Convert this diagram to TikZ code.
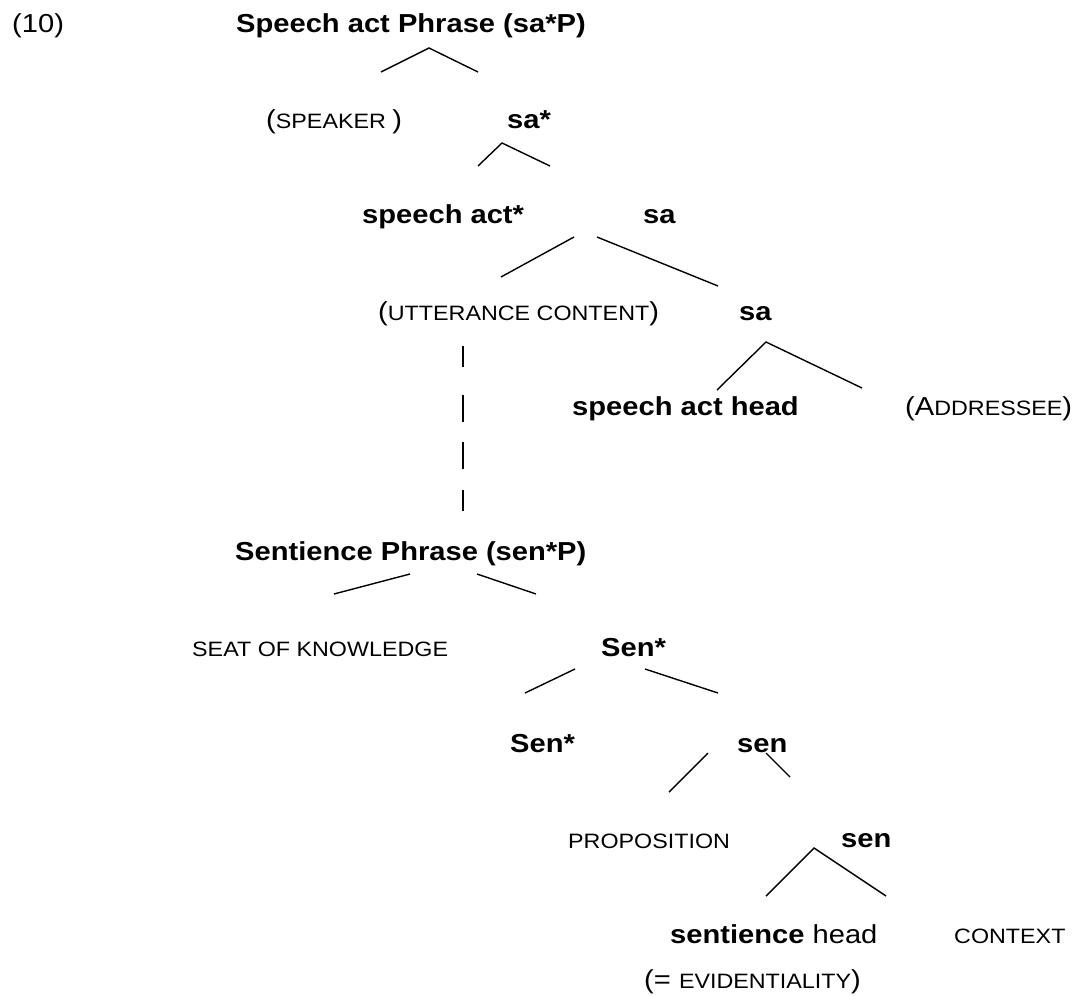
\documentclass[tikz,border=0pt]{standalone}
\usepackage{fontspec}
\setmainfont[FakeStretch=1.12]{Liberation Sans}
\newcommand\mysc[1]{{\fontsize{20.8}{24}\selectfont #1}}
\begin{document}
\begin{tikzpicture}[x=1pt,y=-1pt,
  lbl/.style={anchor=base west,inner sep=0pt,font=\fontsize{26}{30}\selectfont},
  bl/.style={lbl,font=\fontsize{26}{30}\selectfont\bfseries},
  br/.style={line width=1.4pt,line join=miter},
  bar/.style={line width=2.2pt}]
\useasboundingbox (0,0) rectangle (1077,996);
% labels
\node[lbl] (ex) at (12,32) {(10)};
\node[bl] (root) at (236,32) {Speech act Phrase (sa*P)};
\node[lbl] (spk) at (266,128) {(\mysc{SPEAKER })};
\node[bl] (sastar) at (507,128) {sa*};
\node[bl] (sact) at (362,223) {speech act*};
\node[bl] (sa1) at (643,223) {sa};
\node[lbl] (utt) at (378,320) {(\mysc{UTTERANCE CONTENT})};
\node[bl] (sa2) at (739,320) {sa};
\node[bl] (sah) at (572,415) {speech act head};
\node[lbl] (addr) at (905,415) {(A\mysc{DDRESSEE})};
\node[bl] (senp) at (235,560) {Sentience Phrase (sen*P)};
\node[lbl] (seat) at (192,656) {\mysc{SEAT OF KNOWLEDGE}};
\node[bl] (senst1) at (601,656) {Sen*};
\node[bl] (senst2) at (510,752) {Sen*};
\node[bl] (sen1) at (737,752) {sen};
\node[lbl] (prop) at (568,848) {\mysc{PROPOSITION}};
\node[bl] (sen2) at (841,847) {sen};
\node[lbl] (sh) at (670,943) {\textbf{sentience} head};
\node[lbl] (ctx) at (954,943) {\mysc{CONTEXT}};
\node[lbl] (evid) at (644,988) {(= \mysc{EVIDENTIALITY})};
% branch end points
\coordinate (r-l) at (381,72); \coordinate (r-a) at (429,48); \coordinate (r-r) at (478,72);
\coordinate (s-l) at (478,166); \coordinate (s-a) at (502,143); \coordinate (s-r) at (550,166);
\coordinate (a-l1) at (501,277); \coordinate (a-l2) at (574,237);
\coordinate (a-r1) at (597,237); \coordinate (a-r2) at (718,286);
\coordinate (b-l) at (717,390); \coordinate (b-a) at (766,342); \coordinate (b-r) at (862,388);
\coordinate (p-l1) at (334,594); \coordinate (p-l2) at (410,574);
\coordinate (p-r1) at (477,574); \coordinate (p-r2) at (536,594);
\coordinate (q-l1) at (525,693); \coordinate (q-l2) at (575,669);
\coordinate (q-r1) at (645,669); \coordinate (q-r2) at (718,693);
\coordinate (t-l1) at (669,792); \coordinate (t-l2) at (708,753);
\coordinate (t-r1) at (766,753); \coordinate (t-r2) at (790,777);
\coordinate (u-l) at (766,896); \coordinate (u-a) at (814,848); \coordinate (u-r) at (886,896);
% branches
\draw[br] (r-l) -- (r-a) -- (r-r);
\draw[br] (s-l) -- (s-a) -- (s-r);
\draw[br] (a-l1) -- (a-l2);
\draw[br] (a-r1) -- (a-r2);
\draw[br] (b-l) -- (b-a) -- (b-r);
\draw[br] (p-l1) -- (p-l2);
\draw[br] (p-r1) -- (p-r2);
\draw[br] (q-l1) -- (q-l2);
\draw[br] (q-r1) -- (q-r2);
\draw[br] (t-l1) -- (t-l2);
\draw[br] (t-r1) -- (t-r2);
\draw[br] (u-l) -- (u-a) -- (u-r);
% dashed link between UTTERANCE CONTENT and Sentience Phrase
\coordinate (d1a) at (463,346); \coordinate (d1b) at (463,367);
\coordinate (d2a) at (463,395); \coordinate (d2b) at (463,422);
\coordinate (d3a) at (463,442); \coordinate (d3b) at (463,469);
\coordinate (d4a) at (463,490); \coordinate (d4b) at (463,511);
\draw[bar] (d1a) -- (d1b);
\draw[bar,line width=1.6pt] (d2a) -- (d2b);
\draw[bar,line width=1.6pt] (d3a) -- (d3b);
\draw[bar] (d4a) -- (d4b);
\end{tikzpicture}
\end{document}
